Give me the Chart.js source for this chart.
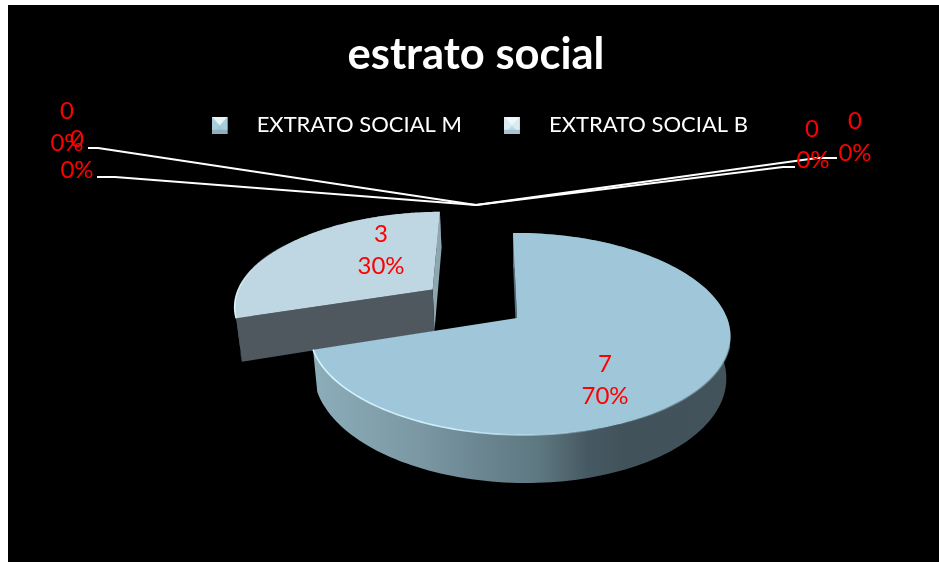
<!DOCTYPE html>
<html lang="es">
<head>
<meta charset="utf-8">
<title>estrato social</title>
<script src="https://cdn.jsdelivr.net/npm/chart.js@4/dist/chart.umd.js"></script>
<style>
  html, body { margin: 0; padding: 0; background: #ffffff; overflow: hidden; }
  #wrap { position: relative; width: 939px; height: 562px; }
</style>
</head>
<body>
<div id="wrap"><canvas id="pie" width="939" height="562"></canvas></div>
<script>
// Chart data
const categories = ['EXTRATO SOCIAL M', 'EXTRATO SOCIAL B', '', '', '', ''];
const socialValues = [7, 3, 0, 0, 0, 0];
const explosionPercent = [0, 52, 0, 0, 0, 0];
const sliceColors = ['#9fc7d9', '#bed7e2', '#9fc7d9', '#bed7e2', '#9fc7d9', '#bed7e2'];
const titleText = 'estrato social';

// Ground-plane projection of the tilted pie (unit disc -> canvas pixels)
const VIEW = {
  x: 517, y: 318, scaleU: 207.7, scaleV: 98.5, skew: 4.6,
  tiltU: -0.011, tiltV: -0.158, focusX: 522, focusPull: 0.02
};

function project(u, v, depth) {
  const w = 1 + VIEW.tiltV * v + VIEW.tiltU * u;
  let px = VIEW.x + (VIEW.scaleU * u + VIEW.skew * v) / w;
  let py = VIEW.y + (VIEW.scaleV * v) / w;
  if (depth) {
    px -= (px - VIEW.focusX) * VIEW.focusPull;
    py += depth / w;
  }
  return [px, py];
}

function wallGradient(ctx, stops) {
  const g = ctx.createLinearGradient(313, 0, 730, 0);
  stops.forEach(([at, color]) => g.addColorStop(at, color));
  return g;
}

// Per-slice finish: thickness, rim wall, the visible cut walls and the rim highlight
const SLICE_FINISH = [
  {
    depth: 40.4,
    glowFromY: 345,
    rim: c => wallGradient(c, [[0, '#8cadba'], [0.25, '#7b98a4'], [0.42, '#69848f'],
      [0.54, '#5e7881'], [0.66, '#465962'], [0.75, '#42525a'], [1, '#43535a']]),
    startWall: '#557079', endWall: null,
    glow: c => wallGradient(c, [[0, '#dcf5fd'], [0.35, '#c9ebf7'], [0.6, 'rgba(190,225,238,0.55)'],
      [0.72, 'rgba(159,199,217,0)'], [0.85, 'rgba(120,150,162,0.5)'], [1, 'rgba(120,150,162,0.6)']])
  },
  {
    depth: 44,
    glowFromY: 0,
    rim: () => '#4f585f',
    startWall: '#4f585f', endWall: '#8ea6b0',
    glow: c => {
      const g = c.createLinearGradient(233, 0, 290, 0);
      g.addColorStop(0, '#dff4fb');
      g.addColorStop(0.5, 'rgba(214,238,247,0.6)');
      g.addColorStop(1, 'rgba(190,215,226,0)');
      return g;
    }
  }
];

// Pie slice that paints itself as a thick disc seen from above
class TiltedArc extends Chart.ArcElement {
  static id = 'tiltedArc';
  static defaults = Chart.ArcElement.defaults;

  draw(ctx) {
    if (!this.circumference) return;
    const finish = SLICE_FINISH[this.$context.dataIndex];
    const mid = (this.startAngle + this.endAngle) / 2;
    const shift = (this.options.offset || 0) / 100;
    const du = Math.cos(mid) * shift;
    const dv = Math.sin(mid) * shift;
    const rimPoints = depth => {
      const pts = [];
      for (let i = 0; i <= 160; i++) {
        const a = this.startAngle + (this.endAngle - this.startAngle) * i / 160;
        pts.push(project(Math.cos(a) + du, Math.sin(a) + dv, depth));
      }
      return pts;
    };
    const trace = pts => {
      ctx.beginPath();
      pts.forEach((p, i) => (i ? ctx.lineTo(p[0], p[1]) : ctx.moveTo(p[0], p[1])));
    };
    const polygon = (pts, fill) => {
      trace(pts);
      ctx.closePath();
      ctx.fillStyle = fill;
      ctx.fill();
    };
    const cutWall = angle => [
      project(du, dv, 0),
      project(Math.cos(angle) + du, Math.sin(angle) + dv, 0),
      project(Math.cos(angle) + du, Math.sin(angle) + dv, finish.depth),
      project(du, dv, finish.depth)
    ];

    ctx.save();
    const upper = rimPoints(0);
    const lower = rimPoints(finish.depth);
    polygon(upper.concat(lower.slice().reverse()), finish.rim(ctx));
    if (finish.endWall) polygon(cutWall(this.endAngle), finish.endWall);
    polygon(cutWall(this.startAngle), finish.startWall);
    polygon([project(du, dv, 0)].concat(upper), this.options.backgroundColor);

    // thin bevel catching the light along the near rim
    trace(upper.filter(p => p[1] > finish.glowFromY));
    ctx.strokeStyle = finish.glow(ctx);
    ctx.lineWidth = 1.6;
    ctx.stroke();
    ctx.restore();
  }
}

// Pie controller whose slices are painted back to front
class TiltedPieController extends Chart.PieController {
  static id = 'tiltedPie';
  static defaults = { dataElementType: 'tiltedArc' };

  draw() {
    const ctx = this.chart.ctx;
    const arcs = this.getMeta().data;
    for (let i = arcs.length - 1; i >= 0; i--) arcs[i].draw(ctx, this.chart.chartArea);
  }
}

Chart.register(TiltedArc, TiltedPieController);

// Red value / percent callouts, in category order
const CALLOUTS = [
  { value: [605, 364], percent: [605, 396] },
  { value: [381, 234], percent: [381, 266] },
  { value: [67, 111], percent: [67, 143] },
  { value: [77, 139], percent: [77, 170] },
  { value: [812, 129], percent: [813, 160] },
  { value: [855, 121], percent: [855, 153] }
];

// Leader lines running from the callouts of the empty slices to their common tip
const LEADER_TIP = [476, 205];
const LEADERS = [
  [[88, 148], [98, 148]],
  [[97, 177], [115, 177]],
  [[795, 167], [783, 167]],
  [[837, 158], [817, 158]]
];

const backdrop = {
  id: 'backdrop',
  beforeDraw(chart) {
    const c = chart.ctx;
    c.save();
    c.fillStyle = '#000000';
    c.fillRect(8, 5, 931, 557);
    c.restore();
  }
};

const callouts = {
  id: 'callouts',
  afterDatasetsDraw(chart) {
    const c = chart.ctx;
    const total = socialValues.reduce((a, b) => a + b, 0);
    c.save();
    c.strokeStyle = '#ffffff';
    c.lineWidth = 2;
    c.lineJoin = 'round';
    LEADERS.forEach(([end, knee]) => {
      c.beginPath();
      c.moveTo(end[0], end[1]);
      c.lineTo(knee[0], knee[1]);
      c.lineTo(LEADER_TIP[0], LEADER_TIP[1]);
      c.stroke();
    });
    c.fillStyle = '#ff0000';
    c.font = '24px Lato, "Open Sans", sans-serif';
    c.textAlign = 'center';
    c.textBaseline = 'middle';
    socialValues.forEach((v, i) => {
      const spot = CALLOUTS[i];
      c.fillText(String(v), spot.value[0], spot.value[1]);
      c.fillText(Math.round(v / total * 100) + '%', spot.percent[0], spot.percent[1]);
    });
    c.restore();
  }
};

// Bevelled legend swatch: 16px tile at the left of a wider transparent box
function swatch(boxWidth, face, top, side, bottom) {
  const cv = document.createElement('canvas');
  cv.width = boxWidth;
  cv.height = 17;
  const c = cv.getContext('2d');
  const tri = (pts, fill) => {
    c.beginPath();
    pts.forEach((p, i) => (i ? c.lineTo(p[0], p[1]) : c.moveTo(p[0], p[1])));
    c.closePath();
    c.fillStyle = fill;
    c.fill();
  };
  c.fillStyle = face;
  c.fillRect(0, 0, 16, 17);
  tri([[0, 0], [16, 0], [8, 9]], top);
  tri([[0, 0], [8, 9], [0, 17]], side);
  tri([[16, 0], [8, 9], [16, 17]], side);
  c.fillStyle = bottom;
  c.fillRect(0, 13, 16, 4);
  return cv;
}

const LEGEND_BOX = 34;
const swatches = [
  swatch(LEGEND_BOX, '#9fc7d9', '#e6f5f9', '#a6cddc', '#8fb0bd'),
  swatch(LEGEND_BOX, '#bed7e2', '#eef8fb', '#d9ecf3', '#a9c4ce')
];

new Chart(document.getElementById('pie'), {
  type: 'tiltedPie',
  data: {
    labels: categories,
    datasets: [{
      data: socialValues,
      backgroundColor: sliceColors,
      offset: explosionPercent,
      borderWidth: 0
    }]
  },
  options: {
    responsive: false,
    animation: false,
    events: [],
    layout: { padding: { left: 162, right: 149, top: 0, bottom: 0 } },
    plugins: {
      tooltip: { enabled: false },
      title: {
        display: true,
        text: titleText,
        color: '#ffffff',
        font: { family: 'Lato, "Open Sans", sans-serif', size: 43.5, weight: 'bold', lineHeight: 0.8 },
        padding: { top: 37.5, bottom: 0 }
      },
      legend: {
        display: true,
        position: 'top',
        align: 'end',
        labels: {
          color: '#ffffff',
          font: { family: 'Lato, "Open Sans", sans-serif', size: 22 },
          usePointStyle: true,
          pointStyleWidth: LEGEND_BOX,
          padding: 42,
          generateLabels: () => categories
            .map((text, i) => ({
              text,
              pointStyle: swatches[i],
              fontColor: '#ffffff',
              lineWidth: 0,
              index: i
            }))
            .filter(item => item.text)
        }
      }
    }
  },
  plugins: [backdrop, callouts]
});
</script>
</body>
</html>
